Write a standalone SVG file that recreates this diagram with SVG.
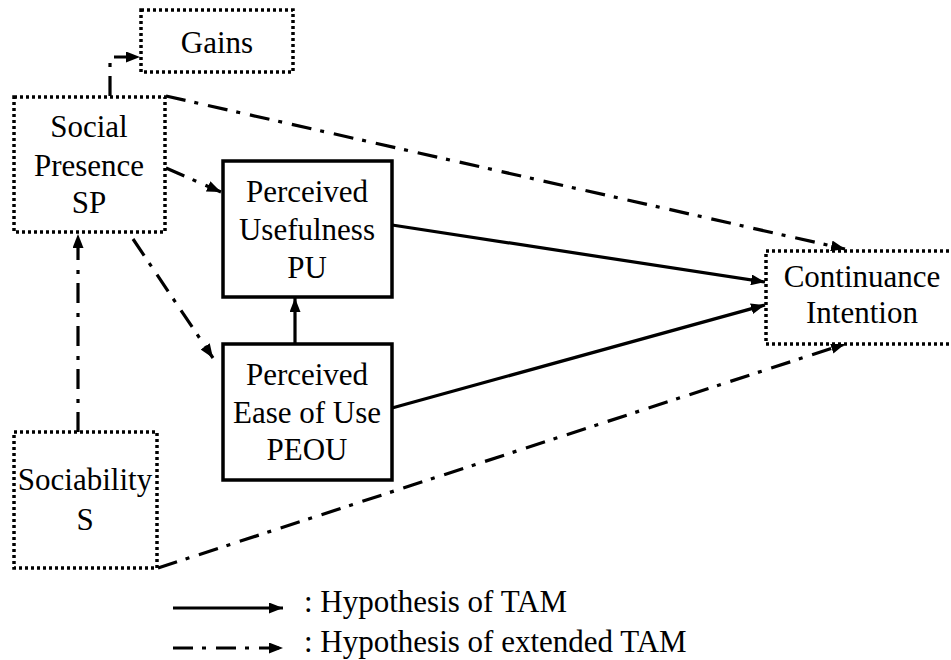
<svg xmlns="http://www.w3.org/2000/svg" width="951" height="660" viewBox="0 0 951 660" font-family="Liberation Serif, DejaVu Serif, serif">
<defs>
<marker id="ah" viewBox="0 0 14 11" refX="14" refY="5.5" markerWidth="14" markerHeight="11" markerUnits="userSpaceOnUse" orient="auto">
<path d="M0,0 L14,5.5 L0,11 Z" fill="#000"/>
</marker>
</defs>
<style>
.dot{fill:#fff;stroke:#000;stroke-width:3.5;stroke-dasharray:3 3}
.sol{fill:#fff;stroke:#000;stroke-width:3.5}
.c{fill:none;stroke:#000;stroke-width:3.2;marker-end:url(#ah)}
.dd{stroke-dasharray:20 9 4 10}
</style>
<rect width="951" height="660" fill="#fff"/>
<g id="connectors">
<path class="c dd" d="M110,96 V57 H140"/>
<path class="c dd" d="M166,168 L221,192"/>
<path class="c dd" d="M166,96 L845,249"/>
<path class="c dd" d="M133,239 L213,358"/>
<path class="c dd" d="M78,432 V234"/>
<path class="c dd" d="M158,568 L845,344"/>
<path class="c" d="M295,344 V298"/>
<path class="c" d="M392,225 L765,282"/>
<path class="c" d="M392,408 L765,305"/>
</g>
<g font-family="Liberation Serif, DejaVu Serif, serif" font-size="31" fill="#000" text-anchor="middle">
<g id="gains">
<rect class="dot" x="141" y="10" width="152" height="62"/>
<text x="217" y="53">Gains</text>
</g>
<g id="sp">
<rect class="dot" x="14" y="97" width="151" height="135"/>
<text x="89" y="137">Social</text>
<text x="89" y="176">Presence</text>
<text x="89" y="213">SP</text>
</g>
<g id="pu">
<rect class="sol" x="223" y="161" width="169" height="136"/>
<text x="307" y="202">Perceived</text>
<text x="307" y="240">Usefulness</text>
<text x="307" y="278">PU</text>
</g>
<g id="peou">
<rect class="sol" x="223" y="344" width="169" height="136"/>
<text x="307" y="385">Perceived</text>
<text x="307" y="423">Ease of Use</text>
<text x="307" y="460">PEOU</text>
</g>
<g id="s">
<rect class="dot" x="14" y="432" width="143" height="136"/>
<text x="85" y="490">Sociability</text>
<text x="85" y="530">S</text>
</g>
<g id="ci">
<rect class="dot" x="766" y="251" width="192" height="93"/>
<text x="862" y="287">Continuance</text>
<text x="862" y="323">Intention</text>
</g>
</g>
<g id="legend" font-family="Liberation Serif, DejaVu Serif, serif" font-size="31" fill="#000">
<path class="c" d="M173,608 H283"/>
<path class="c dd" d="M173,648 H283"/>
<text x="304" y="612">: Hypothesis of TAM</text>
<text x="304" y="652">: Hypothesis of extended TAM</text>
</g>
</svg>
